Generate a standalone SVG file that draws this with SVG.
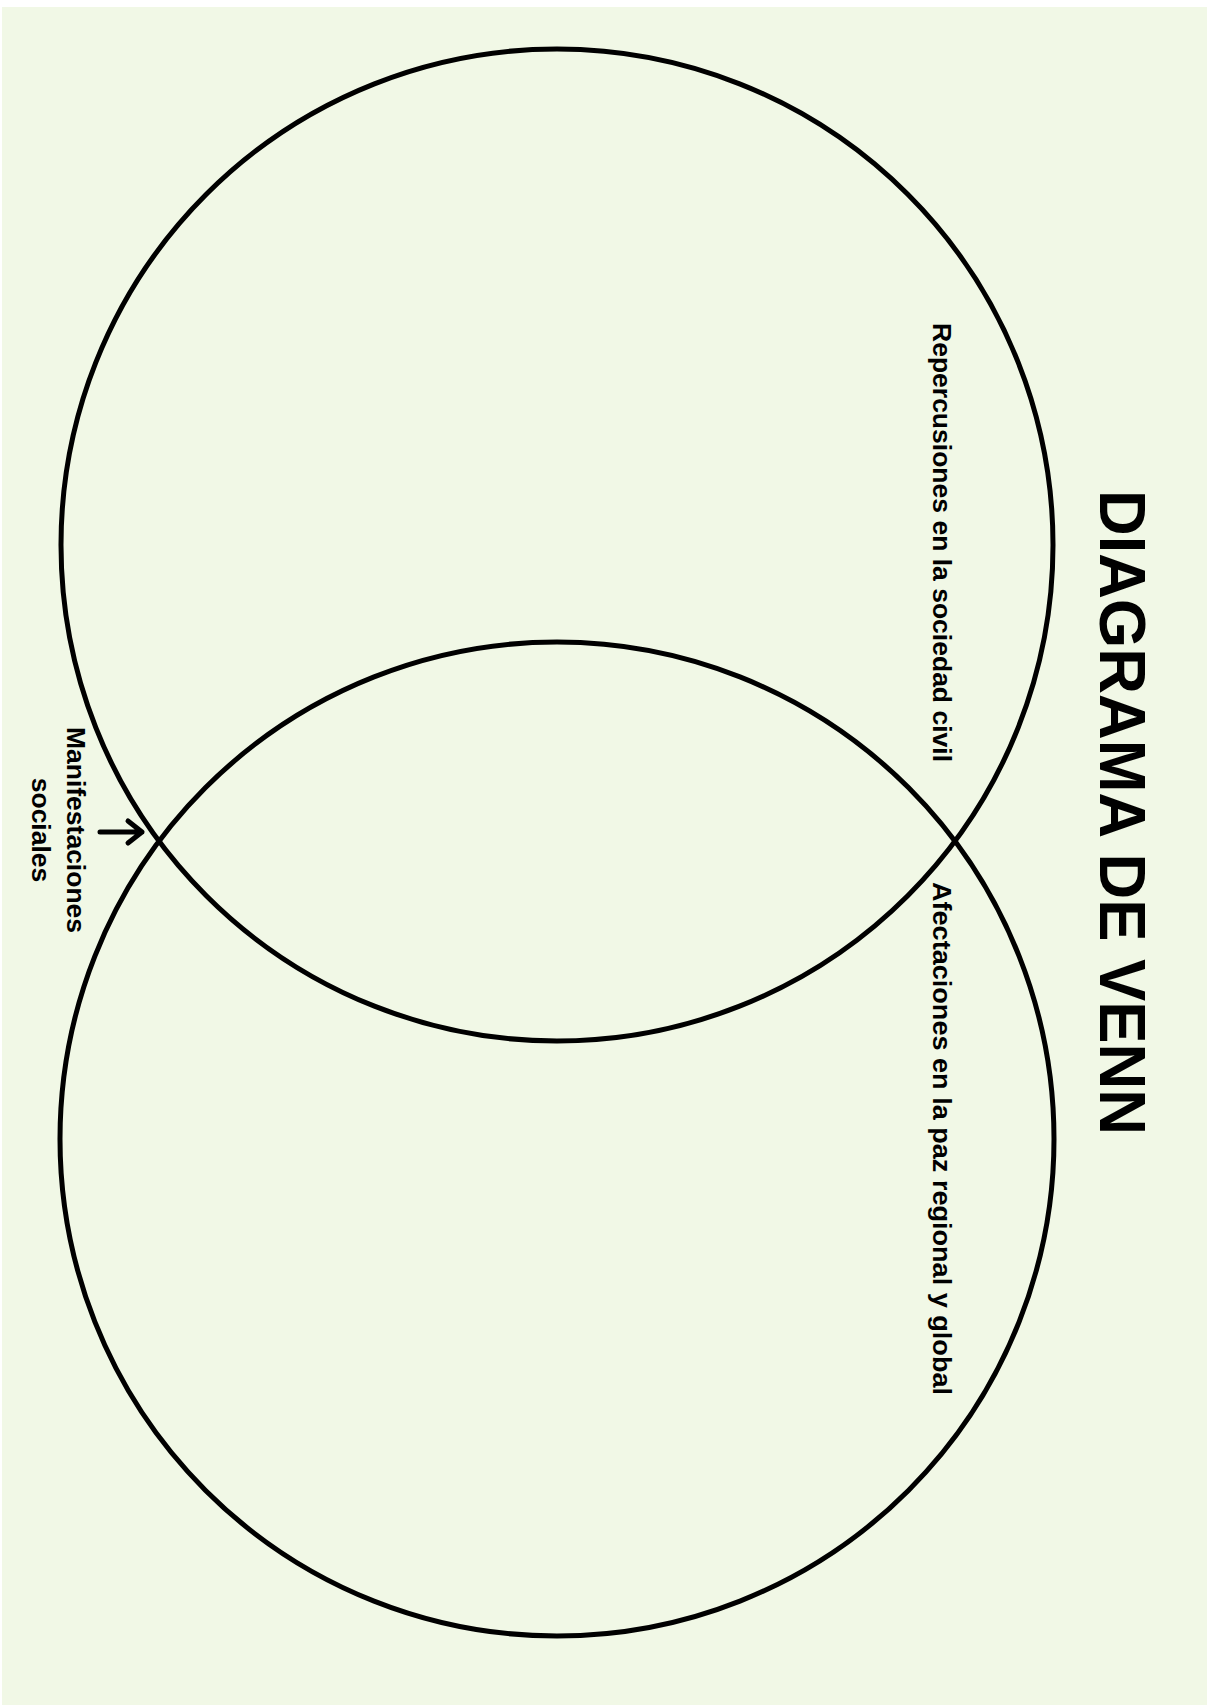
<svg xmlns="http://www.w3.org/2000/svg" width="1209" height="1705" viewBox="0 0 1209 1705">
<style>
.bg{fill:#f1f8e6}
.ring{fill:none;stroke:#000;stroke-width:5}
.title{font-family:"Liberation Sans",Arial,sans-serif;font-weight:700;font-size:65px;fill:#000}
.lbl{font-family:"Liberation Sans",Arial,sans-serif;font-weight:700;font-size:26.5px;fill:#000}
.arrow{fill:none;stroke:#000;stroke-width:5;stroke-linecap:round;stroke-linejoin:round}
</style>
<rect x="0" y="0" width="1209" height="1705" fill="#ffffff"/>
<rect class="bg" x="2" y="7" width="1205" height="1698"/>
<g id="circle-top"><circle class="ring" cx="557" cy="545" r="496"/></g>
<g id="circle-bottom"><circle class="ring" cx="557" cy="1139" r="497"/></g>
<g id="title"><text class="title" transform="translate(1100,490) rotate(90)" textLength="645" lengthAdjust="spacingAndGlyphs">DIAGRAMA DE VENN</text></g>
<g id="label-top"><text class="lbl" transform="translate(933,323) rotate(90)" textLength="439" lengthAdjust="spacingAndGlyphs">Repercusiones en la sociedad civil</text></g>
<g id="label-bottom"><text class="lbl" transform="translate(933,882) rotate(90)" textLength="513" lengthAdjust="spacingAndGlyphs">Afectaciones en la paz regional y global</text></g>
<g id="label-intersection"><text class="lbl" transform="translate(67,830) rotate(90)" text-anchor="middle" font-size="24"><tspan x="0" y="0">Manifestaciones</tspan><tspan x="0" y="35">sociales</tspan></text></g>
<g id="connectors"><path class="arrow" d="M100,832 H142 M128,821 L142,832 L128,843"/></g>
</svg>
